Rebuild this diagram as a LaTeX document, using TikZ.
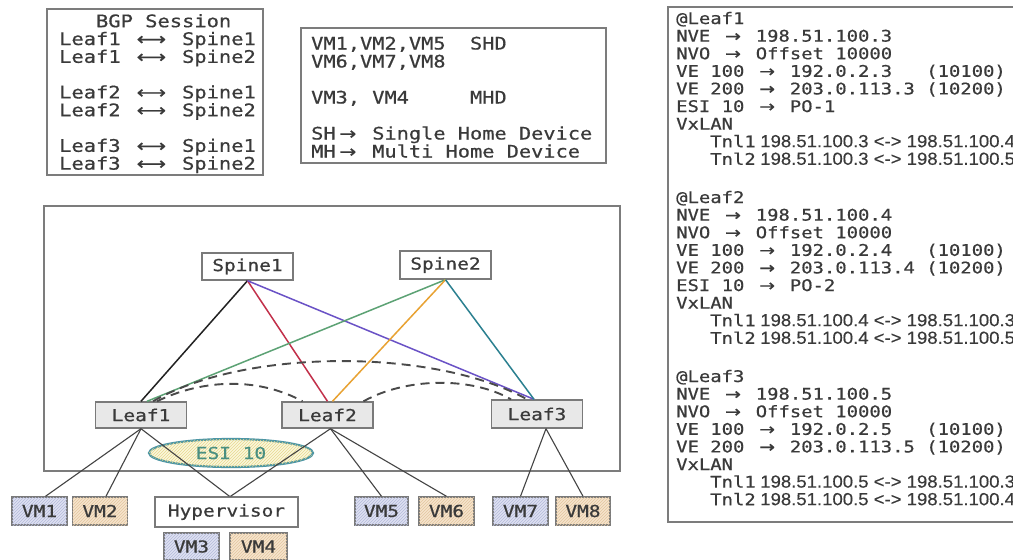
\documentclass[tikz,border=0pt]{standalone}
\usepackage{fontspec}
\usetikzlibrary{shapes.geometric,patterns}
\newfontfamily\monoft[FakeStretch=1.18,FakeBold=0.6]{DejaVu Sans Mono}
\newfontfamily\ipft[FakeStretch=1.06,FakeBold=0.3]{Liberation Sans}
\newfontfamily\symft[FakeStretch=1.18,FakeBold=0.6]{DejaVu Sans}
\newlength\chw
\newcommand\rar{\settowidth{\chw}{0}\makebox[2\chw][c]{{\symft →}}}
\newcommand\lrar{\settowidth{\chw}{0}\makebox[3\chw][c]{{\symft ⟷}}}
\newcommand\ip[1]{\hspace{4.5pt}{\ipft\fontsize{17.5}{17.6}\selectfont #1}}
\newcommand\nodefont{\monoft\fontsize{16.5}{18}\selectfont}
\definecolor{txt}{HTML}{3A3A3A}
\definecolor{boxgray}{HTML}{7C7C7C}
\definecolor{nodegray}{HTML}{7A7A7A}
\definecolor{leaffill}{HTML}{E8E8E8}
\definecolor{vmbluefill}{HTML}{DEE1F1}
\definecolor{vmbluehatch}{HTML}{B4BADB}
\definecolor{vmpeachfill}{HTML}{F6E4CC}
\definecolor{vmpeachhatch}{HTML}{E2C6A0}
\definecolor{esiteal}{HTML}{4E96A4}
\definecolor{esifill}{HTML}{FBF7DC}
\definecolor{esihatch}{HTML}{E6D98E}
\definecolor{esitext}{HTML}{4A8F80}
\definecolor{lkblack}{HTML}{222222}
\definecolor{lkred}{HTML}{C2304A}
\definecolor{lkpurple}{HTML}{6A52C6}
\definecolor{lkgreen}{HTML}{5CA274}
\definecolor{lkorange}{HTML}{E8A232}
\definecolor{lkteal}{HTML}{2B8090}
\definecolor{dashgray}{HTML}{4A4A4A}
\definecolor{vmline}{HTML}{444444}
\begin{document}
\begin{tikzpicture}[x=1pt,y=-1pt,
  panel/.style={draw=boxgray, line width=1.8},
  listing/.style={anchor=north west, inner sep=0, align=left, text=txt},
  netbox/.style={draw=nodegray, line width=1.4, inner sep=0, font=\nodefont, text=txt},
  spinebox/.style={netbox, fill=white, minimum width=91, minimum height=27},
  leafbox/.style={netbox, fill=leaffill, minimum width=91, minimum height=26},
  hypbox/.style={netbox, fill=white, minimum width=143, minimum height=30},
  vmbox/.style={netbox, minimum width=55, minimum height=28},
  vmblue/.style={vmbox, fill=vmbluefill, postaction={pattern=north east lines, pattern color=vmbluehatch}},
  vmpeach/.style={vmbox, fill=vmpeachfill, postaction={pattern=north east lines, pattern color=vmpeachhatch}},
  esinode/.style={ellipse, draw=esiteal, line width=2.2, fill=esifill,
     postaction={pattern=north east lines, pattern color=esihatch},
     minimum width=164, minimum height=28, inner sep=0, font=\nodefont, text=esitext},
  uplink/.style={line width=1.5},
  tunnel/.style={draw=dashgray, line width=1.9, dash pattern=on 9pt off 6pt},
  vmlink/.style={draw=vmline, line width=1.1}]
\useasboundingbox (0,0) rectangle (1013,560);
\clip (0,0) rectangle (1013,560);
\fill[white] (0,0) rectangle (1013,560);

% BGP session box
\draw[panel] (47,9) rectangle (263,175);
\node[listing, font={\monoft\fontsize{17.3}{17.8}\selectfont}] (bgp) at (59,13)
 {\rule{0pt}{14pt}\phantom{xxx}BGP Session\\
  Leaf1 \lrar{} Spine1\\
  Leaf1 \lrar{} Spine2\\[17.8pt]
  Leaf2 \lrar{} Spine1\\
  Leaf2 \lrar{} Spine2\\[17.8pt]
  Leaf3 \lrar{} Spine1\\
  Leaf3 \lrar{} Spine2};

% legend box
\draw[panel] (301,28) rectangle (606,163);
\node[listing, font={\monoft\fontsize{17.2}{18}\selectfont}] (legend) at (311,35.3)
 {\rule{0pt}{14pt}VM1,VM2,VM5~~SHD\\
  VM6,VM7,VM8\\[18pt]
  VM3, VM4~~~~~MHD\\[18pt]
  SH\rar{} Single Home Device\\
  MH\rar{} Multi Home Device};

% configuration panel
\draw[panel] (668,7) rectangle (1030,522);
\node[listing, font={\monoft\fontsize{16}{17.6}\selectfont}] (conf) at (676,9.8)
 {\rule{0pt}{14pt}@Leaf1\\
  NVE \rar{} 198.51.100.3\\
  NVO \rar{} Offset 10000\\
  VE 100 \rar{} 192.0.2.3~~~(10100)\\
  VE 200 \rar{} 203.0.113.3 (10200)\\
  ESI 10 \rar{} PO-1\\
  VxLAN\\
  \phantom{xxx}Tnl1\ip{198.51.100.3 <-> 198.51.100.4}\\
  \phantom{xxx}Tnl2\ip{198.51.100.3 <-> 198.51.100.5}\\[20.6pt]
  @Leaf2\\
  NVE \rar{} 198.51.100.4\\
  NVO \rar{} Offset 10000\\
  VE 100 \rar{} 192.0.2.4~~~(10100)\\
  VE 200 \rar{} 203.0.113.4 (10200)\\
  ESI 10 \rar{} PO-2\\
  VxLAN\\
  \phantom{xxx}Tnl1\ip{198.51.100.4 <-> 198.51.100.3}\\
  \phantom{xxx}Tnl2\ip{198.51.100.4 <-> 198.51.100.5}\\[20.6pt]
  @Leaf3\\
  NVE \rar{} 198.51.100.5\\
  NVO \rar{} Offset 10000\\
  VE 100 \rar{} 192.0.2.5~~~(10100)\\
  VE 200 \rar{} 203.0.113.5 (10200)\\
  VxLAN\\
  \phantom{xxx}Tnl1\ip{198.51.100.5 <-> 198.51.100.3}\\
  \phantom{xxx}Tnl2\ip{198.51.100.5 <-> 198.51.100.4}};

% fabric frame
\draw[panel] (44,206) rectangle (620,471);

% nodes
\node[esinode] (E) at (231,453) {ESI 10};
\node[spinebox] (S1) at (247.5,266.5) {Spine1};
\node[spinebox, minimum height=28] (S2) at (445.5,265) {Spine2};
\node[leafbox] (L1) at (141,415) {Leaf1};
\node[leafbox] (L2) at (327.5,415) {Leaf2};
\node[leafbox, minimum height=28] (L3) at (537,414) {Leaf3};
\node[hypbox] (H) at (226.5,512) {Hypervisor};
\node[vmblue] (VM1) at (39.5,511) {VM1};
\node[vmpeach] (VM2) at (100,511) {VM2};
\node[vmblue, minimum height=27] (VM3) at (191.5,546.5) {VM3};
\node[vmpeach, minimum height=27, minimum width=57] (VM4) at (258.5,546.5) {VM4};
\node[vmblue, minimum width=53] (VM5) at (381.5,511) {VM5};
\node[vmpeach] (VM6) at (446.5,511) {VM6};
\node[vmblue] (VM7) at (520.5,511) {VM7};
\node[vmpeach, minimum width=54] (VM8) at (583,511) {VM8};

% spine-leaf links
\draw[uplink, lkblack] (S1.south) -- (L1.north);
\draw[uplink, lkred] (S1.south) -- (L2.north);
\draw[uplink, lkpurple] (S1.south) -- ([xshift=-3]L3.north);
\draw[uplink, lkgreen] (S2.south) -- ([xshift=6]L1.north);
\draw[uplink, lkorange] (S2.south) -- ([xshift=5]L2.north);
\draw[uplink, lkteal] (S2.south) -- ([xshift=-3]L3.north);

% VxLAN tunnels
\draw[tunnel] ([xshift=12]L1.north) .. controls (245,348) and (435,348) .. ([xshift=-10]L3.north);
\draw[tunnel] ([xshift=16]L1.north) .. controls (205,378) and (260,378) .. ([xshift=-25]L2.north);
\draw[tunnel] ([xshift=36]L2.north) .. controls (405,378) and (470,376) .. ([xshift=-26]L3.north);

% leaf-host links
\draw[vmlink] (L1.south) -- ([xshift=6]VM1.north);
\draw[vmlink] (L1.south) -- ([xshift=6]VM2.north);
\draw[vmlink] (L1.south) -- ([xshift=3]H.north);
\draw[vmlink] ([xshift=3]L2.south) -- ([xshift=4]H.north);
\draw[vmlink] ([xshift=3]L2.south) -- (VM5.north);
\draw[vmlink] ([xshift=3]L2.south) -- (VM6.north);
\draw[vmlink] ([xshift=9]L3.south) -- (VM7.north);
\draw[vmlink] ([xshift=9]L3.south) -- (VM8.north);
\end{tikzpicture}
\end{document}
